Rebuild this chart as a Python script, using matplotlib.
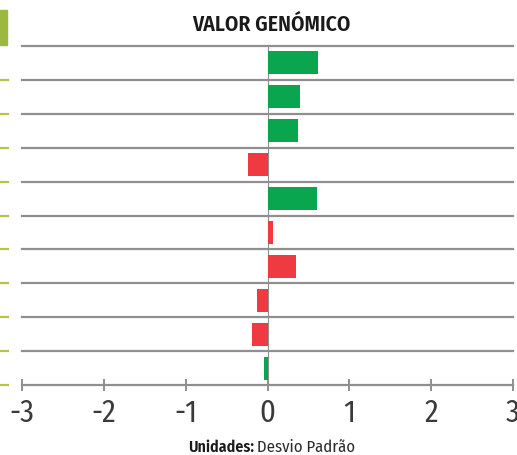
import matplotlib
matplotlib.use('Agg')
import matplotlib.pyplot as plt
from matplotlib.patches import Rectangle
from matplotlib.transforms import blended_transform_factory

# valores (de cima para baixo)
valores = [0.62, 0.40, 0.37, -0.24, 0.61, 0.07, 0.35, -0.13, -0.19, -0.04]
cores_barras = ['g', 'g', 'g', 'r', 'g', 'r', 'r', 'r', 'r', 'g']
xticks = [-3, -2, -1, 0, 1, 2, 3]

verde = '#0aa64f'
vermelho = '#ee3a40'
cinza = '#8f8f8f'
oliva = '#b9c24c'

plt.rcParams['font.family'] = ['Fira Sans Condensed', 'DejaVu Sans']

fig = plt.figure(figsize=(5.17, 4.55), dpi=100)
ax = fig.add_axes([22/517, 1-385/455, 491/517, 339/455])

n = len(valores)
ys = [n - i - 0.5 for i in range(n)]
cols = [verde if c == 'g' else vermelho for c in cores_barras]
ax.barh(ys, valores, height=0.68, color=cols, zorder=3)

ax.set_xlim(-3, 3)
ax.set_ylim(0, n)

# linhas horizontais entre linhas
for k in range(1, n + 1):
    ax.axhline(k, color=cinza, lw=1.6, zorder=1, clip_on=False)
ax.axvline(0, color=cinza, lw=0.8, zorder=2)

for s in ['top', 'right', 'left']:
    ax.spines[s].set_visible(False)
ax.spines['bottom'].set_color(cinza)
ax.spines['bottom'].set_linewidth(1.6)

ax.set_yticks([])
ax.set_xticks(xticks)
ax.set_xticklabels([str(t) for t in xticks], fontsize=22, fontweight='normal',
                   color='#3a3a3a')
ax.tick_params(axis='x', direction='inout', length=9, width=1.4, color=cinza, pad=5)

# marcas verdes da esquerda (resto do grafico vizinho)
tr = blended_transform_factory(fig.transFigure, ax.transData)
for k in range(0, n):
    ax.plot([0, 8/517], [k, k], color=oliva, lw=1.6, transform=tr, clip_on=False)
fig.patches.append(Rectangle((0, 1-45/455), 7/517, 35/455, color='#9bb940',
                             transform=fig.transFigure, figure=fig))

fig.text(271/517, 1-25/455, 'VALOR GENÓMICO', ha='center', va='center',
         fontsize=15.5, fontweight='semibold', color='#1a1a1a')
fig.text(188/517, 1-447/455, 'Unidades:', ha='left', va='center',
         fontsize=11.5, fontweight='semibold', color='#1a1a1a')
fig.text(257/517, 1-447/455, 'Desvio Padrão', ha='left', va='center',
         fontsize=12, fontweight='normal', color='#2a2a2a')

fig.savefig('out.png', dpi=100)
